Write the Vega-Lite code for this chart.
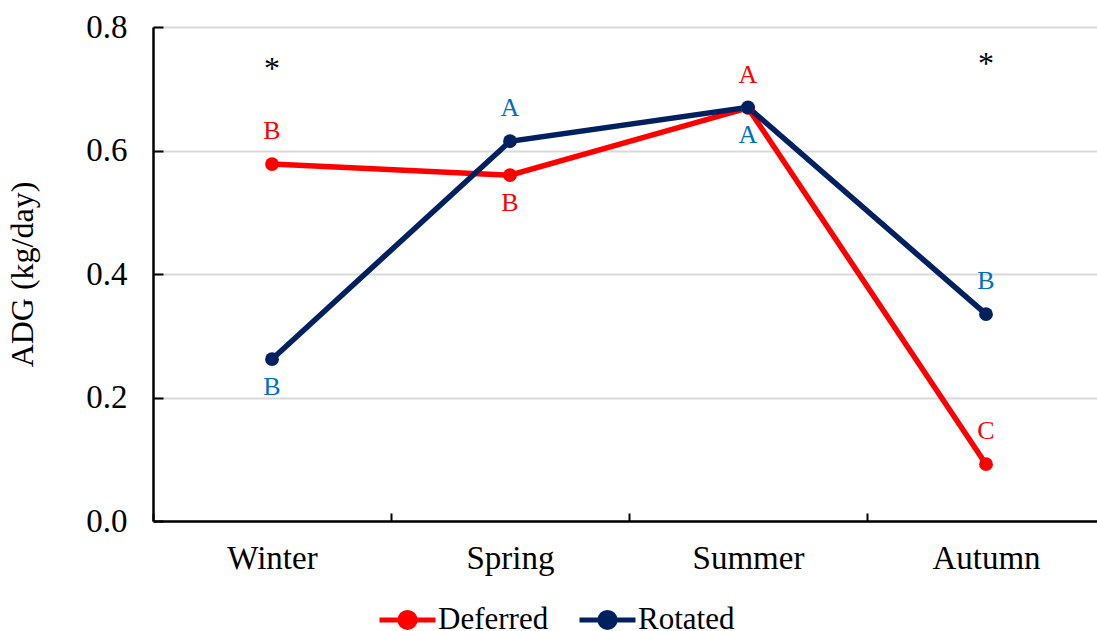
{
  "$schema": "https://vega.github.io/schema/vega-lite/v6.json",
  "autosize": "none",
  "width": 944,
  "height": 494,
  "padding": {"left": 153, "top": 27, "right": 0, "bottom": 110},
  "background": "white",
  "config": {
    "view": {"stroke": null},
    "font": "Liberation Serif",
    "axis": {"labelFont": "Liberation Serif", "titleFont": "Liberation Serif", "labelColor": "black", "titleColor": "black"}
  },
  "datasets": {
    "adg": [
      {"season": "Winter", "series": "Deferred", "adg": 0.578, "letter": "B", "side": "above"},
      {"season": "Spring", "series": "Deferred", "adg": 0.560, "letter": "B", "side": "below"},
      {"season": "Summer", "series": "Deferred", "adg": 0.669, "letter": "A", "side": "above"},
      {"season": "Autumn", "series": "Deferred", "adg": 0.092, "letter": "C", "side": "above"},
      {"season": "Winter", "series": "Rotated", "adg": 0.262, "letter": "B", "side": "below"},
      {"season": "Spring", "series": "Rotated", "adg": 0.615, "letter": "A", "side": "above"},
      {"season": "Summer", "series": "Rotated", "adg": 0.670, "letter": "A", "side": "below"},
      {"season": "Autumn", "series": "Rotated", "adg": 0.335, "letter": "B", "side": "above"}
    ],
    "sig": [
      {"season": "Winter", "adg": 0.738, "mark": "*"},
      {"season": "Autumn", "adg": 0.746, "mark": "*"}
    ]
  },
  "data": {"name": "adg"},
  "encoding": {
    "x": {
      "field": "season", "type": "nominal", "sort": ["Winter", "Spring", "Summer", "Autumn"],
      "scale": {"type": "band", "range": [0, 952], "paddingInner": 0, "paddingOuter": 0},
      "axis": {
        "title": null, "labelAngle": 0, "labelFontSize": 33, "labelPadding": 29,
        "tickBand": "extent", "tickSize": -8, "tickColor": "black", "tickWidth": 2,
        "domainColor": "black", "domainWidth": 2.5, "grid": false
      }
    },
    "y": {
      "field": "adg", "type": "quantitative",
      "scale": {"domain": [0, 0.8], "nice": false, "zero": true},
      "axis": {
        "title": "ADG (kg/day)", "titleFontSize": 32, "titleFontWeight": "normal", "titlePadding": 46,
        "values": [0, 0.2, 0.4, 0.6, 0.8], "format": ".1f", "labelFontSize": 33, "labelPadding": 36,
        "tickSize": -10, "tickColor": "black", "tickWidth": 2,
        "domainColor": "black", "domainWidth": 2.5,
        "grid": true, "gridColor": "#d9d9d9", "gridWidth": 2
      }
    },
    "color": {
      "field": "series", "type": "nominal",
      "scale": {"domain": ["Deferred", "Rotated"], "range": ["#FF0000", "#002060"]},
      "legend": {
        "title": null, "orient": "none", "legendX": 224, "legendY": 562, "direction": "horizontal",
        "symbolType": "M -1 0 L 1 0 M 0.27 0 A 0.27 0.27 0 1 1 -0.27 0 A 0.27 0.27 0 1 1 0.27 0 Z",
        "symbolSize": 3136, "symbolStrokeWidth": 5,
        "labelFont": "Liberation Serif", "labelFontSize": 31, "labelColor": "black",
        "labelOffset": 0, "columnPadding": 20,
        "encode": {"symbols": {"update": {"fill": {"scale": "color", "field": "value"}, "stroke": {"scale": "color", "field": "value"}, "opacity": {"value": 1}}}}
      }
    }
  },
  "layer": [
    {"mark": {"type": "line", "strokeWidth": 5.5}},
    {"mark": {"type": "point", "filled": true, "shape": "circle", "size": 190, "opacity": 1}},
    {
      "transform": [{"filter": "datum.side === 'above'"}],
      "mark": {"type": "text", "fontSize": 26, "baseline": "middle", "dy": -33},
      "encoding": {
        "text": {"field": "letter"},
        "color": {"condition": {"test": "datum.series === 'Deferred'", "value": "#FF0000"}, "value": "#0070C0"}
      }
    },
    {
      "transform": [{"filter": "datum.side === 'below'"}],
      "mark": {"type": "text", "fontSize": 26, "baseline": "middle", "dy": 28},
      "encoding": {
        "text": {"field": "letter"},
        "color": {"condition": {"test": "datum.series === 'Deferred'", "value": "#FF0000"}, "value": "#0070C0"}
      }
    },
    {
      "data": {"name": "sig"},
      "mark": {"type": "text", "fontSize": 32, "baseline": "middle", "dy": 4, "color": "black"},
      "encoding": {
        "text": {"field": "mark"},
        "color": {"value": "black"}
      }
    }
  ]
}
